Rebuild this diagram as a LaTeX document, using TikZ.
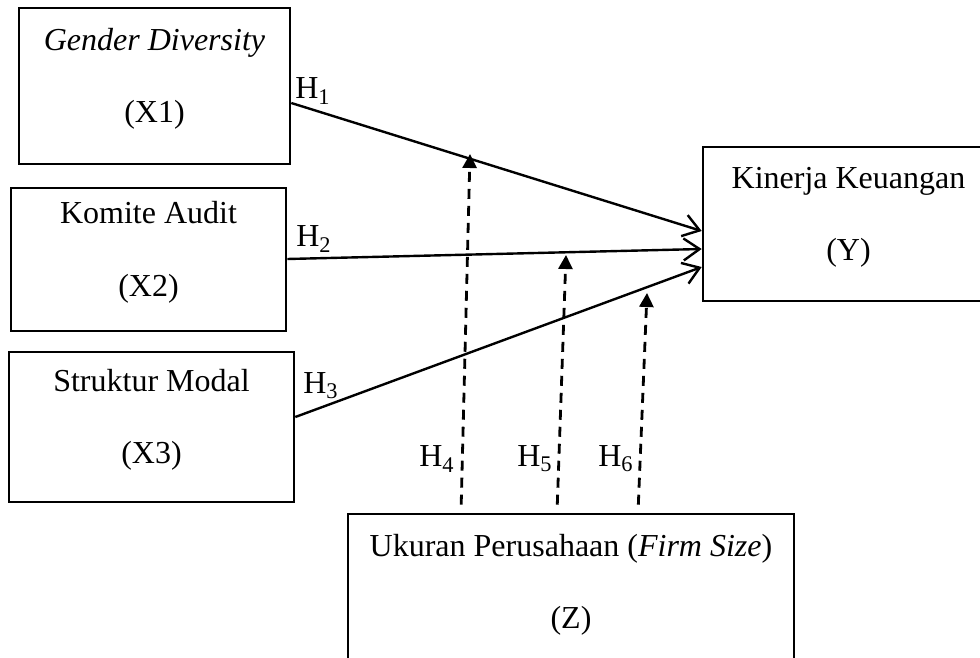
\documentclass[tikz,border=0pt]{standalone}
\usepackage{fontspec}
\setmainfont{Liberation Serif}
\usetikzlibrary{arrows.meta}
\newcommand{\boxtext}[2]{\begin{tabular}{@{}c@{}}#1\\[17pt]#2\\[7pt]\end{tabular}}

\begin{document}
\begin{tikzpicture}[x=0.5pt,y=-0.5pt,
  var/.style={draw, line width=1.3pt, inner sep=0pt, font=\fontsize{16}{19.2}\selectfont},
  hyp/.style={inner sep=0pt, font=\fontsize{16}{19.2}\selectfont},
  direct/.style={line width=1.2pt, -{Straight Barb[length=8pt,width=11pt,line width=1.2pt]}},
  moder/.style={line width=1.4pt, dash pattern=on 5pt off 3.5pt, shorten <=4pt, -{Triangle[length=7pt,width=7pt]}}]
\useasboundingbox (0,0) rectangle (980,658);
\clip (0,0) rectangle (980,658);

\node[var, minimum width=135.5pt, minimum height=78pt] (x1) at (154.5,86) {\boxtext{\textit{Gender Diversity}}{(X1)}};
\node[var, minimum width=137.5pt, minimum height=71.5pt] (x2) at (148.5,259.5) {\boxtext{Komite Audit}{(X2)}};
\node[var, minimum width=142.5pt, minimum height=75pt] (x3) at (151.5,427) {\boxtext{Struktur Modal}{(X3)}};
\node[var, minimum width=145.5pt, minimum height=77pt] (ky) at (848.5,224) {\boxtext{Kinerja Keuangan}{(Y)}};
\node[var, minimum width=223pt, minimum height=78pt] (kz) at (571,592) {\boxtext{Ukuran Perusahaan (\textit{Firm Size})}{(Z)}};

% hypothesis labels
\node[hyp] (h1) at (313,91) {H\textsubscript{1}};
\node[hyp] (h2) at (314,239) {H\textsubscript{2}};
\node[hyp] (h3) at (321,386) {H\textsubscript{3}};
\node[hyp] (h4) at (437,459) {H\textsubscript{4}};
\node[hyp] (h5) at (535,459) {H\textsubscript{5}};
\node[hyp] (h6) at (616,459) {H\textsubscript{6}};

\draw[direct] (x1.east |- 0,103) -- (ky.west |- 0,231);
\draw[direct] (x2.east |- 0,259) -- (ky.west |- 0,249);
\draw[direct] (x3.east |- 0,417) -- (ky.west |- 0,267);

% moderating effects
\coordinate (m1) at (470,154);
\coordinate (m2) at (566,255);
\coordinate (m3) at (647,293);
\draw[moder] (kz.north -| 461,0) -- (m1);
\draw[moder] (kz.north -| 557,0) -- (m2);
\draw[moder] (kz.north -| 638,0) -- (m3);
\end{tikzpicture}
\end{document}
